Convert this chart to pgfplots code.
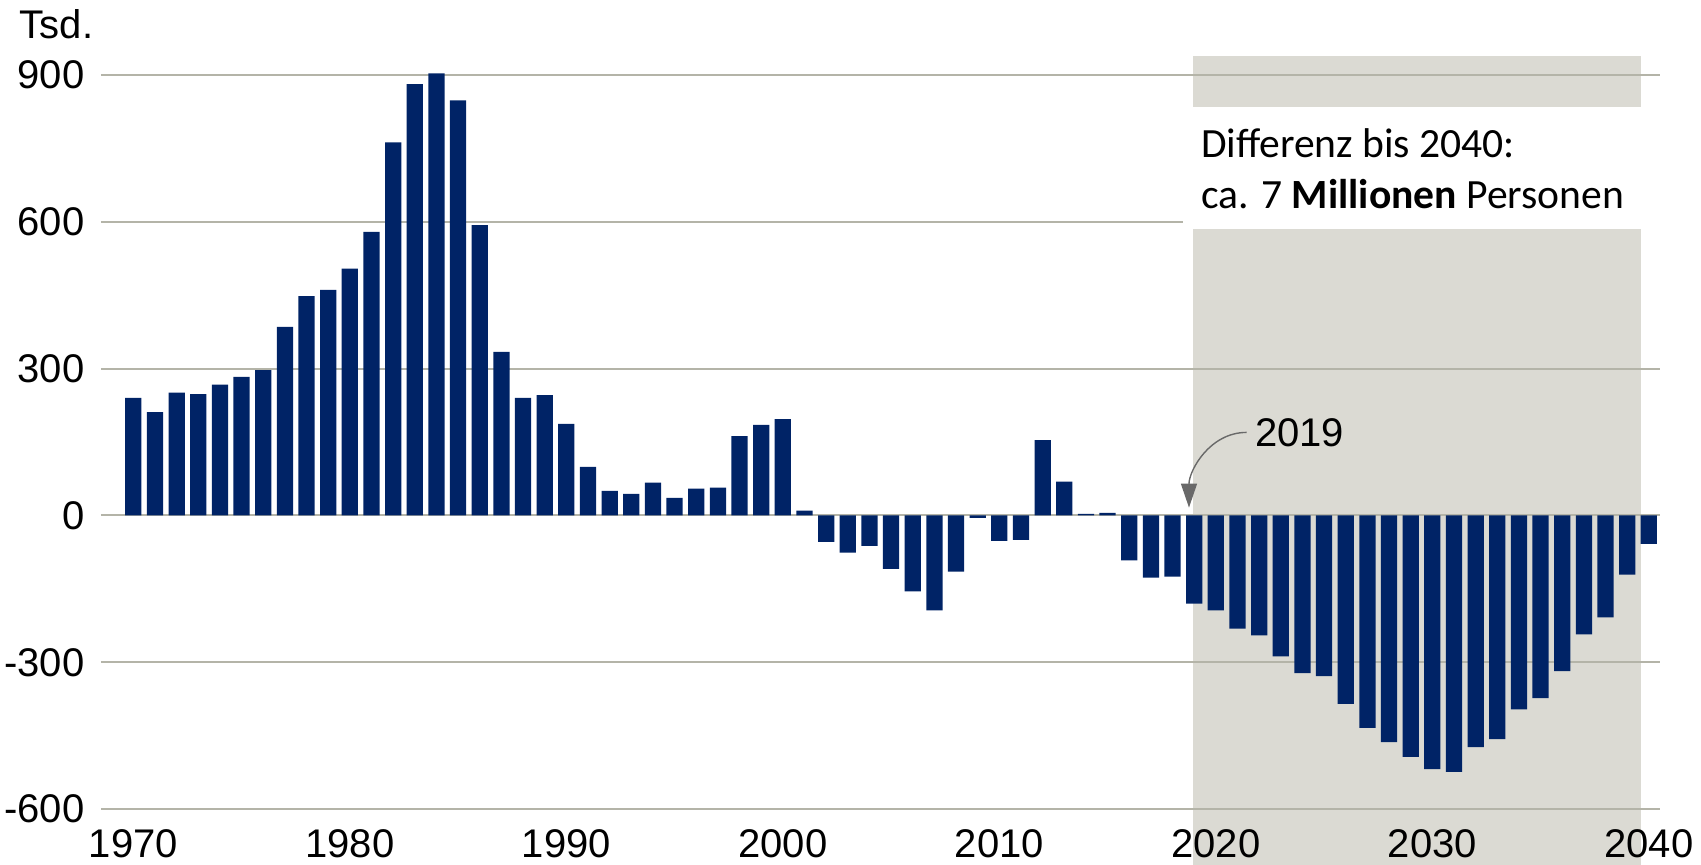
\documentclass[border=0pt]{standalone}
\usepackage{fontspec}
\setmainfont{Liberation Sans}
\newfontfamily\tickfont{Liberation Sans}
\newfontfamily\calfont{Carlito}
\usepackage{pgfplots}
\usepackage{pgfplotstable}
\pgfplotsset{compat=1.18}
\usetikzlibrary{arrows.meta}
\definecolor{barblue}{HTML}{002366}
\definecolor{shadec}{RGB}{219,218,211}
\definecolor{gridc}{RGB}{180,180,168}
\definecolor{arrowc}{RGB}{105,105,105}

\pgfplotstableread{
year val
1970 240
1971 211
1972 251
1973 248
1974 267
1975 283
1976 297
1977 385
1978 448
1979 461
1980 504
1981 579
1982 762
1983 881
1984 903
1985 848
1986 593
1987 334
1988 240
1989 246
1990 187
1991 99
1992 50
1993 44
1994 67
1995 36
1996 55
1997 57
1998 162
1999 185
2000 197
2001 10
2002 -54
2003 -76
2004 -62
2005 -109
2006 -155
2007 -194
2008 -115
2009 -5
2010 -52
2011 -50
2012 154
2013 69
2014 3
2015 5
2016 -92
2017 -127
2018 -125
2019 -180
2020 -194
2021 -231
2022 -245
2023 -288
2024 -322
2025 -328
2026 -385
2027 -434
2028 -463
2029 -493
2030 -518
2031 -524
2032 -473
2033 -457
2034 -396
2035 -373
2036 -318
2037 -243
2038 -208
2039 -121
2040 -58
}\datatable

\begin{document}
\begin{tikzpicture}
\begin{axis}[
  set layers,
  scale only axis,
  width=779.4pt, height=376.4pt,
  xmin=1968.5, xmax=2040.5, ymin=-600, ymax=937.7,
  axis line style={draw=none},
  major tick length=0pt,
  xtick={1970,1980,...,2040},
  ytick={-600,-300,0,300,600,900},
  ymajorgrids, grid style={gridc, line width=1pt},
  /pgf/number format/assume math mode=true,
  /pgf/number format/1000 sep={},
  ticklabel style={font=\fontsize{20}{22}\tickfont, inner sep=0pt},
  yticklabel style={anchor=east, xshift=-8pt},
  xticklabel style={anchor=north, yshift=-10pt},
  clip=false,
]
\pgfonlayer{axis background}
\fill[shadec] (axis cs:2018.94,-713.8) rectangle (axis cs:2039.625,937.7);
\endpgfonlayer
\fill[white] (axis cs:2018.5,585.2) rectangle (axis cs:2041.5,833.5);
\addplot[ybar, bar width=0.75, fill=barblue, draw=none] table[x=year,y=val]{\datatable};
\draw[arrowc, line width=0.7pt, -{Triangle[length=12pt,width=8pt]}] (axis cs:2021.42,169.6) to[out=180,in=90] (axis cs:2018.76,16);
\node[anchor=base west, inner sep=0pt, font=\fontsize{20}{22}\tickfont] at (axis cs:2021.8,140) {2019};
\node[anchor=base west, inner sep=0pt, font=\fontsize{20.8}{24}\calfont] at (axis cs:2019.3,732) {Differenz bis 2040:};
\node[anchor=base west, inner sep=0pt, font=\fontsize{20.8}{24}\calfont] at (axis cs:2019.3,626) {ca. 7 \textbf{Millionen} Personen};
\node[anchor=base west, inner sep=0pt, font=\fontsize{20}{22}\tickfont] at (axis cs:1964.74,975) {Tsd.};
\coordinate (bbll) at (axis cs:1963.84,-713.8);
\coordinate (bbur) at (axis cs:2042.41,1052.9);
\end{axis}
\pgfresetboundingbox
\useasboundingbox (bbll) rectangle (bbur);
\end{tikzpicture}
\end{document}
